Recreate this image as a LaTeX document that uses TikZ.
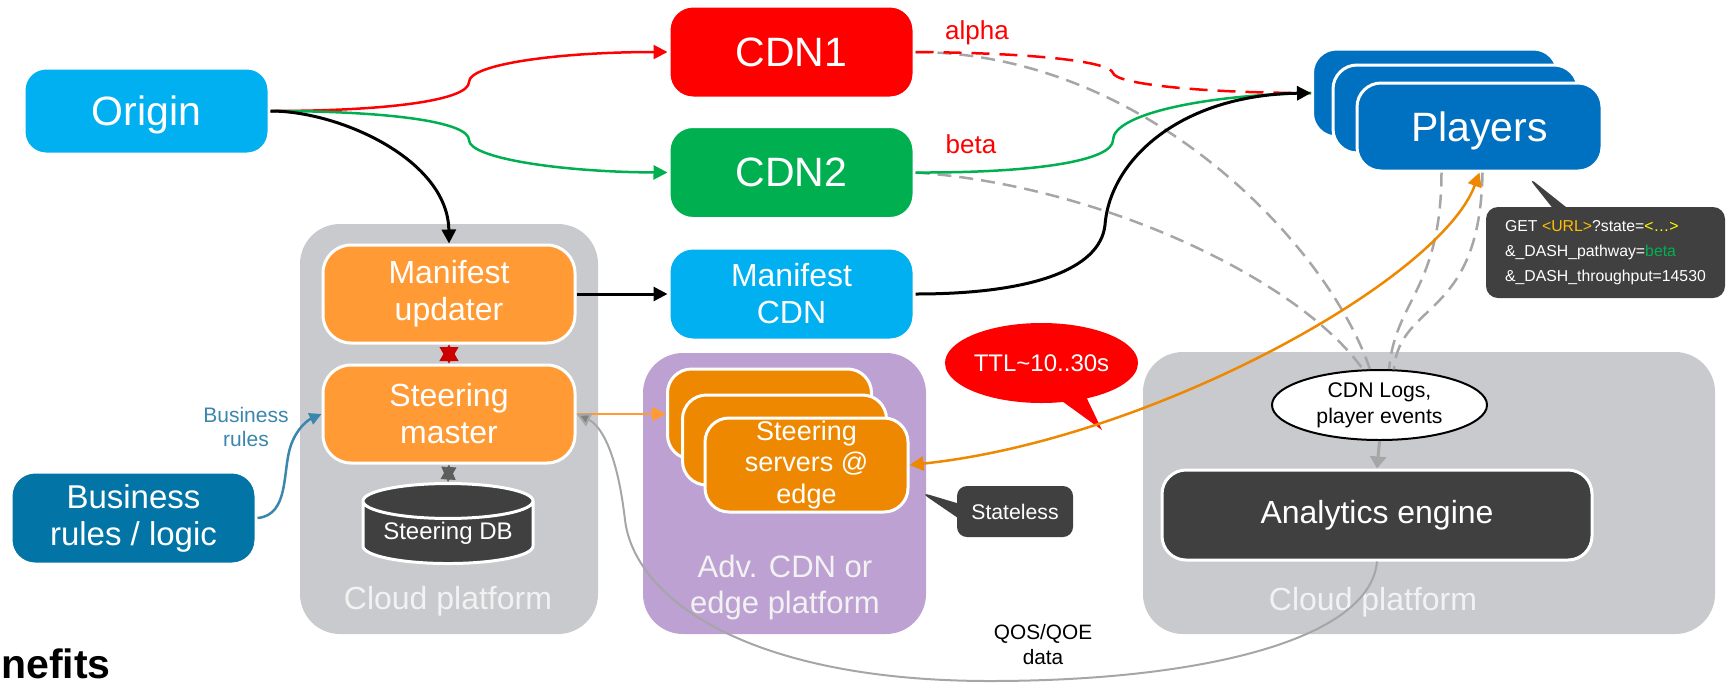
\documentclass[tikz,border=0pt]{standalone}
\usepackage{fontspec}
\setmainfont{Liberation Sans}
\usepackage{tikz}
\definecolor{originBlue}{HTML}{00B0F0}
\definecolor{cdnRed}{HTML}{FF0000}
\definecolor{cdnGreen}{HTML}{00B050}
\definecolor{playerBlue}{HTML}{0070C0}
\definecolor{masterOrange}{HTML}{FF9A35}
\definecolor{edgeOrange}{HTML}{EE8800}
\definecolor{cloudGrey}{HTML}{C9CACE}
\definecolor{edgePurple}{HTML}{BDA1D3}
\definecolor{darkGrey}{HTML}{404040}
\definecolor{rulesBlue}{HTML}{0274A6}
\definecolor{rulesArrow}{HTML}{3A86AD}
\definecolor{dashGrey}{HTML}{A6A6A6}
\definecolor{urlYellow}{HTML}{FFC000}
\definecolor{dotsYellow}{HTML}{FFFF00}
\usetikzlibrary{calc}
\usetikzlibrary{shapes.geometric,shapes.callouts}
\usetikzlibrary{arrows.meta}

\tikzset{
    box/.style={rounded corners=12pt, draw=white, line width=1.5pt, text=white, align=center, inner sep=0pt},
    bigbox/.style={box, minimum width=122.5pt, minimum height=44pt, text depth=0pt, font=\fontsize{20.5}{24}\selectfont},
    midbox/.style={box, font=\fontsize{16}{18.5}\selectfont},
    platform/.style={fill=cloudGrey, rounded corners=20pt},
    platformtext/.style={text=white!95!black, align=center, font=\fontsize{16}{18}\selectfont},
    arrowhd/.style={-{Triangle[length=7pt,width=7pt]}},
    logline/.style={dashGrey, line width=1.25pt, dash pattern=on 7pt off 4pt},
}

\begin{document}
\begin{tikzpicture}[x=0.5pt,y=-0.5pt]
        \useasboundingbox (0,0) rectangle (1729,687);

        % platforms
        \node[platform, minimum width=149pt, minimum height=205pt] (cloudL) at (449,429) {};
        \node[platform, fill=edgePurple, minimum width=141.5pt, minimum height=140.5pt] (edgeP) at (784.5,493.5) {};
        \node[platform, minimum width=286pt, minimum height=141pt] (cloudR) at (1429,493) {};
        \node[platformtext, anchor=base] (cloudLtext) at (448,609) {Cloud platform};
        \node[platformtext, anchor=base] (cloudRtext) at (1373,610) {Cloud platform};
        \node[platformtext, font=\fontsize{15.5}{18}\selectfont] (edgePtext) at (785,587) {Adv. CDN or\\edge platform};

        % boxes
        \node[bigbox, fill=originBlue, minimum height=43pt, rounded corners=11pt] (origin) at (146.5,111) {Origin};
        \node[bigbox, fill=cdnRed, minimum height=46pt] (cdn1) at (791.5,52) {CDN1};
        \node[bigbox, fill=cdnGreen, minimum height=46pt] (cdn2) at (791.5,172.5) {CDN2};
        \node[midbox, fill=originBlue, minimum width=122.5pt, minimum height=46pt] (mcdn) at (791.5,294) {Manifest\\CDN};
        \node[bigbox, fill=playerBlue] (players1) at (1435,93) {};
        \node[bigbox, fill=playerBlue] (players2) at (1455.5,109) {};
        \node[bigbox, fill=playerBlue] (players3) at (1479.5,127) {Players};
        \node[midbox, fill=masterOrange, minimum width=126pt, minimum height=49pt, rounded corners=14pt] (updater) at (449,294) {Manifest\\updater};
        \node[midbox, fill=masterOrange, minimum width=126pt, minimum height=49pt, rounded corners=14pt] (master) at (449,414) {Steering\\master};
        \node[cylinder, shape border rotate=90, aspect=0.27, draw=white, line width=1.5pt, fill=darkGrey, text=white,
              minimum width=85pt, minimum height=40pt, inner sep=0pt, font=\fontsize{12}{14}\selectfont] (db) at (448,533) {Steering DB};
        \node[midbox, fill=rulesBlue, minimum width=122.5pt, minimum height=46pt, font=\fontsize{16.5}{18.5}\selectfont] (rules) at (133.5,518) {Business\\rules / logic};
        \node[midbox, fill=edgeOrange, minimum width=102pt, minimum height=45pt] (edge1) at (769.5,414) {};
        \node[midbox, fill=edgeOrange, minimum width=102pt, minimum height=45pt] (edge2) at (784.5,440) {};
        \node[midbox, fill=edgeOrange, minimum width=101.5pt, minimum height=47pt, font=\fontsize{13.5}{15.8}\selectfont] (edge3) at (806.5,465) {Steering\\servers @\\edge};
        \node[midbox, fill=darkGrey, minimum width=215pt, minimum height=45pt] (analytics) at (1377,515) {Analytics engine};
        \node[ellipse, draw=black, line width=1pt, fill=white, minimum width=107.5pt, minimum height=35pt, inner sep=0pt,
              align=center, font=\fontsize{10.6}{13}\selectfont] (logs) at (1379.5,405) {CDN Logs,\\player events};

        % callouts and labels
        \node[ellipse callout, fill=cdnRed, text=white, minimum width=96.5pt, minimum height=40pt, inner sep=0pt,
              callout absolute pointer={(1102,430)}, font=\fontsize{12}{14}\selectfont] (ttl) at (1041.5,363) {TTL\textasciitilde10..30s};
        \node[rectangle callout, fill=darkGrey, text=white, rounded corners=5pt, minimum width=58pt, minimum height=25.5pt, inner sep=0pt,
              callout absolute pointer={(920,492)}, font=\fontsize{10.6}{12}\selectfont] (stateless) at (1015,511.5) {Stateless};
        \node[rectangle callout, fill=darkGrey, text=white, rounded corners=6pt, minimum width=119.5pt, minimum height=45.5pt,
              inner xsep=7pt, align=left, callout absolute pointer={(1527,176)}, font=\fontsize{7.9}{12.5}\selectfont] (get) at (1605.5,252.5)
              {GET \textcolor{urlYellow}{<URL>}?state=\textcolor{dotsYellow}{<…>}\\\&\_DASH\_pathway=\textcolor{cdnGreen}{beta}\\\&\_DASH\_throughput=14530};
        \node[text=cdnRed, anchor=base, font=\fontsize{13}{15}\selectfont] (alpha) at (977,39) {alpha};
        \node[text=cdnRed, anchor=base, font=\fontsize{13}{15}\selectfont] (beta) at (971,153) {beta};
        \node[text=rulesArrow, align=center, font=\fontsize{10.5}{12}\selectfont] (ruleslabel) at (246,427) {Business\\rules};
        \node[align=center, font=\fontsize{10.4}{12.5}\selectfont] (qos) at (1043,645) {QOS/QOE\\data};
        \node[anchor=base east, inner xsep=0pt, font=\fontsize{20.5}{24}\bfseries] (benefits) at (111,678) {nefits};

        % origin to CDNs and cloud
        \draw[cdnRed, line width=1.25pt, arrowhd] (origin.east) .. controls (390,111) and (469,100) .. (469,82) .. controls (469,64) and (560,52) .. (cdn1.west);
        \draw[cdnGreen, line width=1.25pt, arrowhd] (origin.east) .. controls (390,111) and (469,122) .. (469,140) .. controls (469,158) and (560,172) .. (cdn2.west);
        \draw[line width=1.5pt, arrowhd] (origin.east) .. controls (340,111) and (448,160) .. (updater.north);

        % log lines
        \draw[logline] (cdn1.east) .. controls (1150,53) and (1330,250) .. (logs.105);
        \draw[logline] (cdn2.east) .. controls (1100,185) and (1300,280) .. (logs.115);
        \draw[logline] ($(players3.south)+(-38,0)$) .. controls (1441,290) and (1395,300) .. (logs.75);
        \draw[logline] ($(players3.south)+(3,0)$) .. controls (1480,320) and (1400,300) .. (logs.68);

        % CDNs to players
        \draw[cdnRed, line width=1.25pt, dash pattern=on 9pt off 5pt] (cdn1.east) .. controls (1040,53) and (1110,62) .. (1113,73) .. controls (1116,84) and (1200,93) .. (players1.west);
        \draw[cdnGreen, line width=1.25pt] (cdn2.east) .. controls (1040,173) and (1113,160) .. (1113,140) .. controls (1113,115) and (1200,95) .. (players1.west);
        \draw[line width=1.5pt, arrowhd] (mcdn.east) .. controls (1030,294) and (1100,270) .. (1105,225) .. controls (1110,160) and (1180,95) .. (players1.west);

        % steering
        \draw[line width=1.5pt, arrowhd] (updater.east) -- (mcdn.west);
        \draw[{Triangle[length=8.25pt,width=9.5pt]}-{Triangle[length=8.25pt,width=9.5pt]}, red!80!black, line width=0.4pt] (updater.south) -- (master.north);
        \draw[{Triangle[length=7.5pt,width=7.5pt]}-{Triangle[length=7.5pt,width=7.5pt]}, darkGrey!85!white, line width=0.4pt] (master.south) -- (db.north);
        \draw[masterOrange, line width=1.25pt, arrowhd] (master.east) -- (edge1.west);
        \draw[edgeOrange, line width=1.25pt, {Triangle[length=7pt,width=7pt]}-{Triangle[length=7pt,width=7pt]}] (edge3.east) .. controls (1150,440) and (1440,280) .. (players3.south);
        \draw[rulesArrow, line width=1.25pt, -{Triangle[length=6pt,width=6pt]}] (rules.east) .. controls (290,515) and (282,470) .. (291,445) .. controls (297,428) and (308,420) .. (master.west);

        % analytics
        \draw[dashGrey, line width=1.5pt, -{Triangle[length=6pt,width=8pt]}] (logs.south) -- (analytics.north);
        \draw[dashGrey, line width=1pt, -{Triangle[length=7pt,width=7pt,fill=gray]}] (analytics.south) .. controls (1370,640) and (1200,681) .. (990,681)
              .. controls (750,681) and (635,600) .. (625,520) .. controls (617,450) and (600,425) .. (master.east);
\end{tikzpicture}
\end{document}
